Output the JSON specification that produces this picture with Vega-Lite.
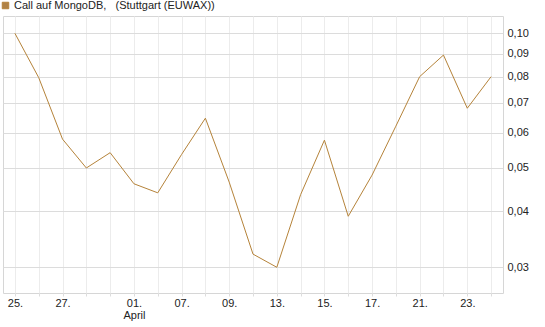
{
  "$schema": "https://vega.github.io/schema/vega-lite/v6.json",
  "width": 500,
  "height": 277,
  "autosize": {"type": "none"},
  "padding": {"left": 3, "top": 16, "right": 42, "bottom": 34},
  "background": "white",
  "config": {
    "font": "Liberation Sans",
    "view": {"stroke": "#d6d6d6", "strokeWidth": 1}
  },
  "data": {
    "values": [
      {"i": 0, "v": 0.100},
      {"i": 1, "v": 0.0796},
      {"i": 2, "v": 0.058},
      {"i": 3, "v": 0.050},
      {"i": 4, "v": 0.0541},
      {"i": 5, "v": 0.0461},
      {"i": 6, "v": 0.0440},
      {"i": 7, "v": 0.0536},
      {"i": 8, "v": 0.0646},
      {"i": 9, "v": 0.0465},
      {"i": 10, "v": 0.0321},
      {"i": 11, "v": 0.0300},
      {"i": 12, "v": 0.0436},
      {"i": 13, "v": 0.0577},
      {"i": 14, "v": 0.0390},
      {"i": 15, "v": 0.0482},
      {"i": 16, "v": 0.0620},
      {"i": 17, "v": 0.0800},
      {"i": 18, "v": 0.0894},
      {"i": 19, "v": 0.0680},
      {"i": 20, "v": 0.0800}
    ]
  },
  "mark": {"type": "line", "strokeWidth": 1, "interpolate": "linear"},
  "encoding": {
    "x": {
      "field": "i",
      "type": "ordinal",
      "scale": {"type": "point", "padding": 0.5},
      "axis": {
        "title": null,
        "domain": false,
        "grid": true,
        "gridColor": "#ececec",
        "gridWidth": 1,
        "ticks": true,
        "tickSize": 3,
        "tickColor": "#dddddd",
        "labelAngle": 0,
        "labelFontSize": 11,
        "labelColor": "#222222",
        "labelPadding": 1,
        "labelOverlap": false,
        "labelFlush": false,
        "labelLineHeight": 12.5,
        "labelExpr": "datum.value == 5 ? ['01.', 'April'] : ['25.', '', '27.', '', '', '01.', '', '07.', '', '09.', '', '13.', '', '15.', '', '17.', '', '21.', '', '23.', ''][datum.value]"
      }
    },
    "y": {
      "field": "v",
      "type": "quantitative",
      "scale": {"type": "log", "domain": [0.02628, 0.1093], "nice": false, "zero": false},
      "axis": {
        "title": null,
        "orient": "right",
        "domain": false,
        "ticks": false,
        "grid": true,
        "gridColor": "#dcdcdc",
        "gridWidth": 1,
        "values": [0.03, 0.04, 0.05, 0.06, 0.07, 0.08, 0.09, 0.10],
        "labelFontSize": 11,
        "labelColor": "#222222",
        "labelPadding": 4,
        "labelExpr": "replace(format(datum.value, '.2f'), '.', ',')"
      }
    },
    "color": {
      "datum": "Call auf MongoDB,\u00a0\u00a0 (Stuttgart (EUWAX))",
      "scale": {"range": ["#b5833a"]},
      "legend": {
        "orient": "none",
        "legendX": -3,
        "legendY": -16,
        "title": null,
        "padding": 0,
        "symbolType": "square",
        "symbolSize": 42,
        "symbolStrokeWidth": 1,
        "labelFontSize": 11,
        "labelColor": "#222222",
        "labelOffset": 3,
        "labelLimit": 0,
        "encode": {
          "symbols": {"update": {"fill": {"value": "#b08246"}, "stroke": {"value": "#5a4020"}, "strokeWidth": {"value": 1}}}
        }
      }
    }
  }
}
